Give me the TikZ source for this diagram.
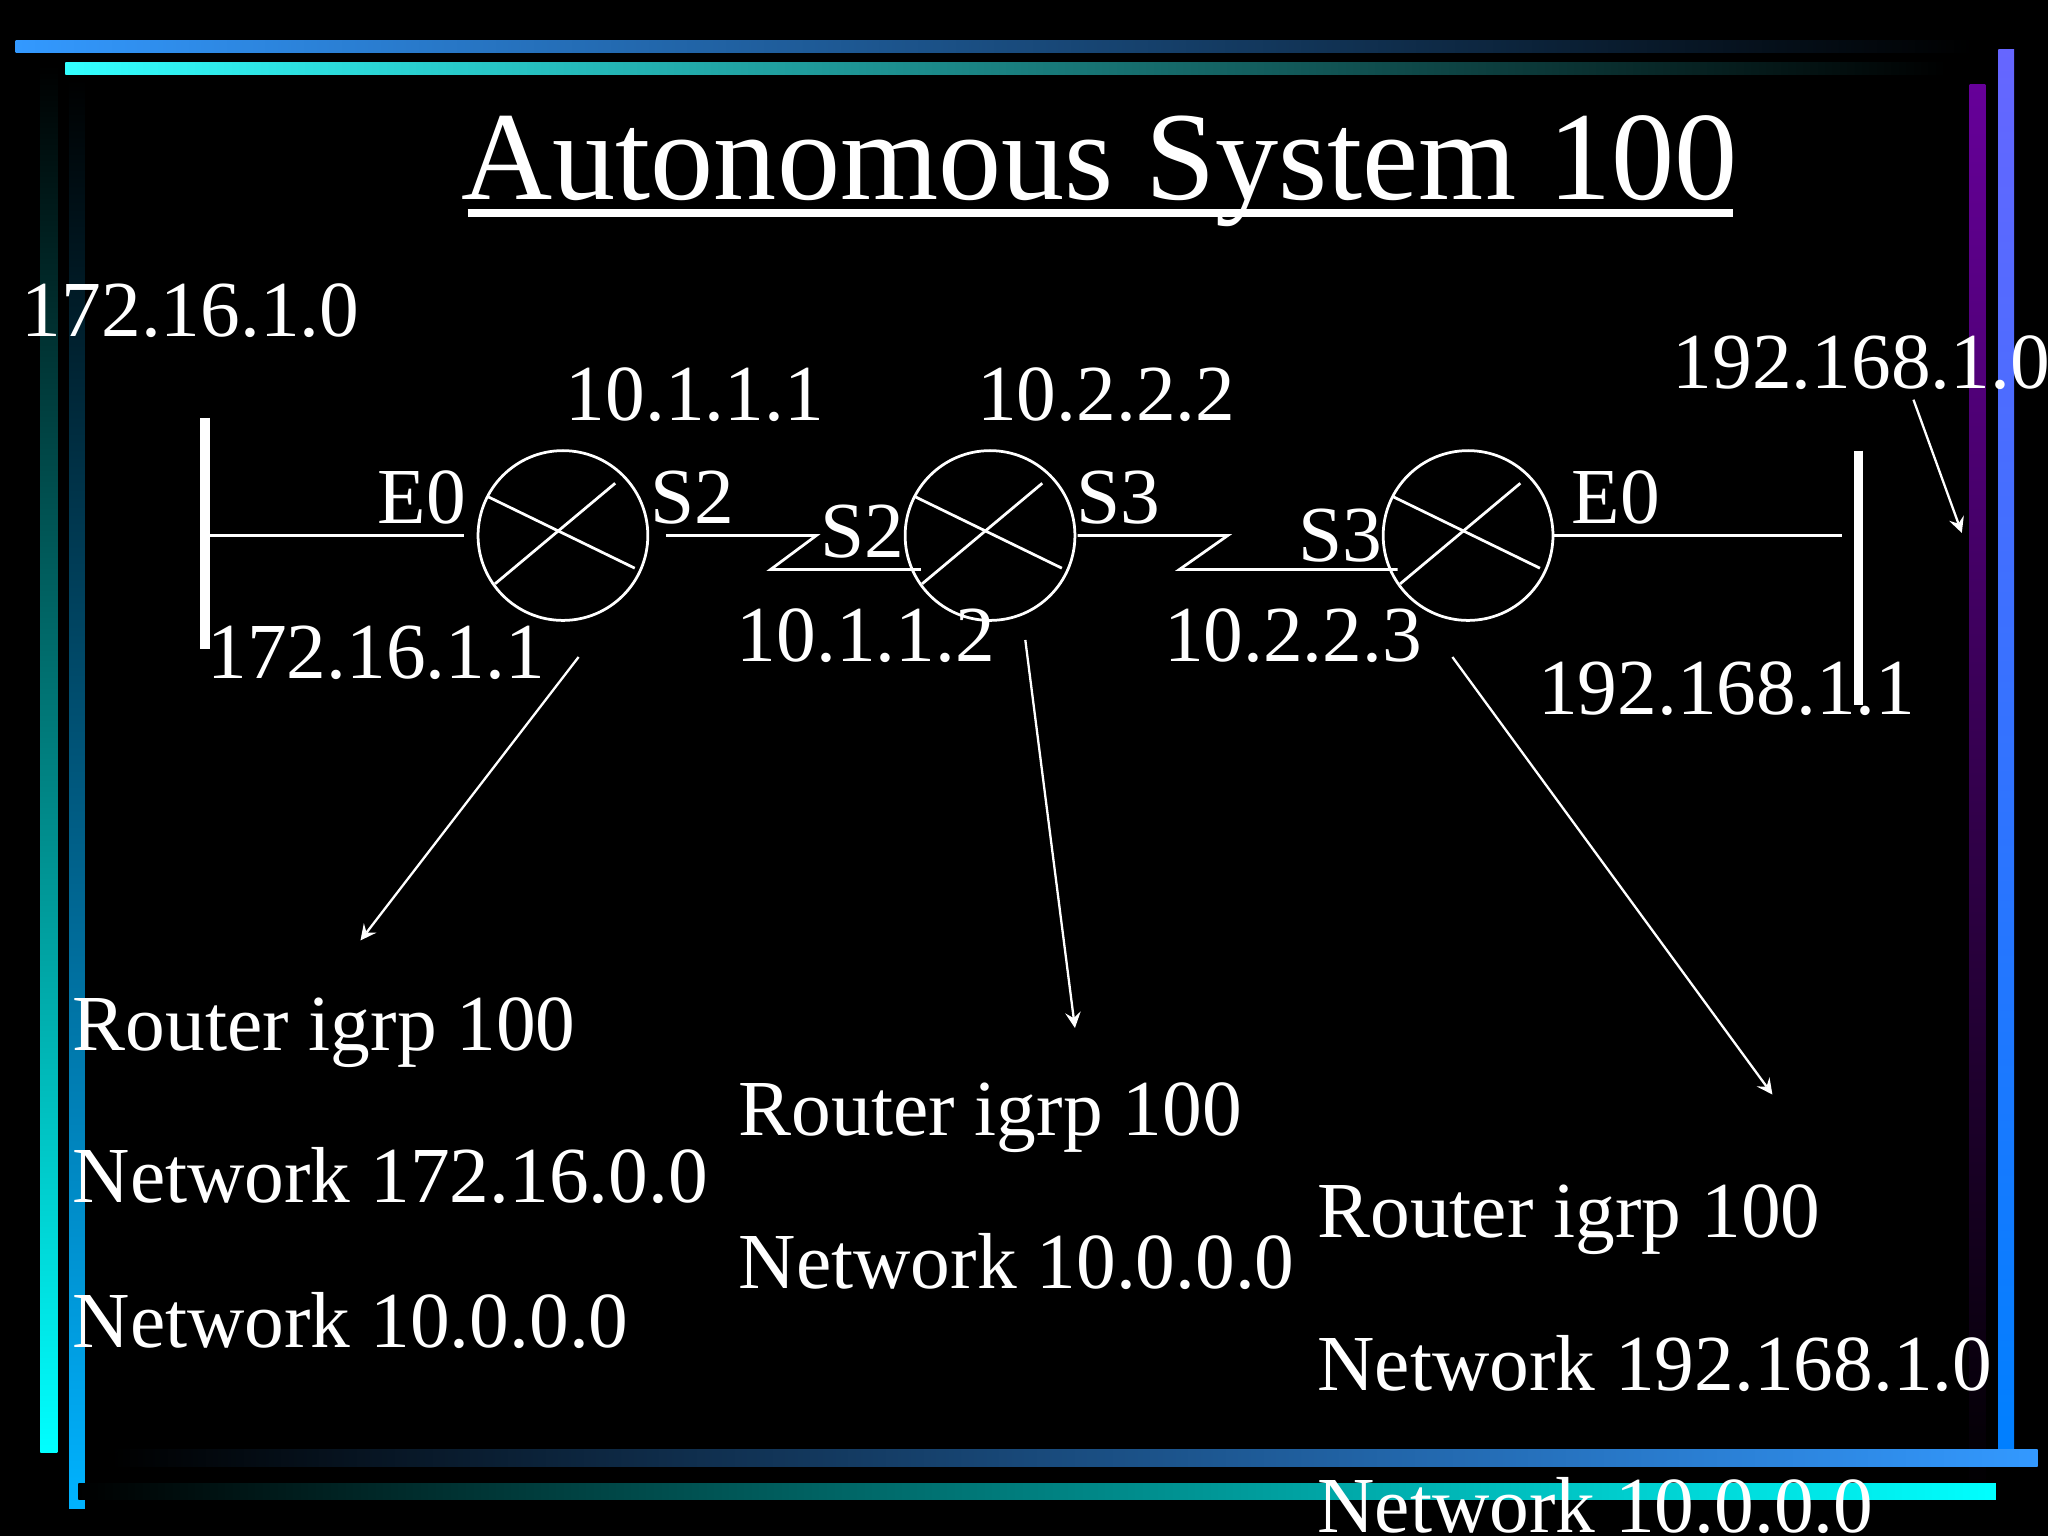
\documentclass[tikz,border=0pt]{standalone}
\usepackage{fontspec}
\setmainfont{Liberation Serif}
\begin{document}
\begin{tikzpicture}[x=0.1mm,y=-0.1mm,
  lbl/.style={text=white,font=\fontsize{17.3}{20}\selectfont,inner sep=0pt},
  blk/.style={text=white,font=\fontsize{17.3}{20}\selectfont,inner sep=0pt,anchor=west},
  wl/.style={white,line width=0.6pt},
  rtr/.style={circle,draw=white,line width=0.6pt,minimum size=13mm,inner sep=0pt},
  arr/.style={white,line width=0.5pt,-stealth}]
\fill[black] (0,0) rectangle (1568,1176);
\useasboundingbox (0,0) rectangle (1568,1176);
% border bars
\shade[left color=blue!50!cyan!80!white,right color=black] (12,31) rectangle (1510,40);
\shade[left color=cyan!80!white,right color=black] (50,48) rectangle (1490,57);
\shade[top color=black,bottom color=cyan] (31,50) rectangle (44,1112);
\shade[top color=black,bottom color=cyan!70!blue] (53,60) rectangle (65,1155);
\shade[top color=blue!60!white,bottom color=blue!50!cyan] (1530,38) rectangle (1542,1110);
\shade[top color=violet!80!blue,bottom color=black] (1508,65) rectangle (1520,1150);
\shade[left color=black,right color=blue!50!cyan!80!white] (85,1110) rectangle (1560,1123);
\shade[left color=black,right color=cyan] (60,1136) rectangle (1528,1148);
% title
\node[text=white,font=\fontsize{27.5}{30}\selectfont,inner sep=0pt] (title) at (842,131) {Autonomous System 100};
\draw[white,line width=1.6pt] (358,163) -- (1327,163);
% routers
\node[rtr] (r1) at (431,410) {};
\node[rtr] (r2) at (758,410) {};
\node[rtr] (r3) at (1124,410) {};
\foreach \r in {r1,r2,r3}{
  \draw[wl] ([shift={(-58,-30)}]\r.center) -- ([shift={(55,25)}]\r.center);
  \draw[wl] ([shift={(-52,37)}]\r.center) -- ([shift={(40,-40)}]\r.center);
}
% LANs
\coordinate (l1) at (157,320); \coordinate (l2) at (157,497);
\draw[white,line width=2pt] (l1) -- (l2);
\coordinate (l3) at (157,410);
\draw[wl] (l3) -- (355,410);
\coordinate (m1) at (1423,345); \coordinate (m2) at (1423,540);
\draw[white,line width=2pt] (m1) -- (m2);
\draw[wl] (r3.east) -- (1410,410);
% serial links
\draw[wl] (510,410) -- (625,410) -- (590,436) -- (705,436);
\draw[wl] (825,410) -- (940,410) -- (903,436) -- (1070,436);
% labels
\node[lbl] at (146,238) {172.16.1.0};
\node[lbl] at (532,302) {10.1.1.1};
\node[lbl] at (847,302) {10.2.2.2};
\node[lbl] (n192) at (1425,278) {192.168.1.0};
\node[lbl] at (323,381) {E0};
\node[lbl] at (530,381) {S2};
\node[lbl] at (660,407) {S2};
\node[lbl] at (856,381) {S3};
\node[lbl] at (1026,410) {S3};
\node[lbl] at (1237,381) {E0};
\node[lbl] at (288,500) {172.16.1.1};
\node[lbl] at (663,487) {10.1.1.2};
\node[lbl] at (990,487) {10.2.2.3};
\node[lbl] at (1322,527) {192.168.1.1};
% text blocks
\node[blk] (a1) at (55,791) {Router igrp 100};
\node[blk] at (55,900) {Network 172.16.0.0};
\node[blk] at (55,1011) {Network 10.0.0.0};
\node[blk] (b1) at (565,856) {Router igrp 100};
\node[blk] at (565,966) {Network 10.0.0.0};
\node[blk] (c1) at (1008,934) {Router igrp 100};
\node[blk] at (1008,1044) {Network 192.168.1.0};
\node[blk] at (1008,1153) {Network 10.0.0.0};
% arrows
\coordinate (e1) at (276,720); \coordinate (e2) at (823,787);
\coordinate (e3) at (1357,838); \coordinate (e4) at (1502,408);
\draw[arr] (443,503) -- (e1);
\draw[arr] (785,490) -- (e2);
\draw[arr] (1112,503) -- (e3);
\draw[arr] (1465,306) -- (e4);
\end{tikzpicture}
\end{document}
